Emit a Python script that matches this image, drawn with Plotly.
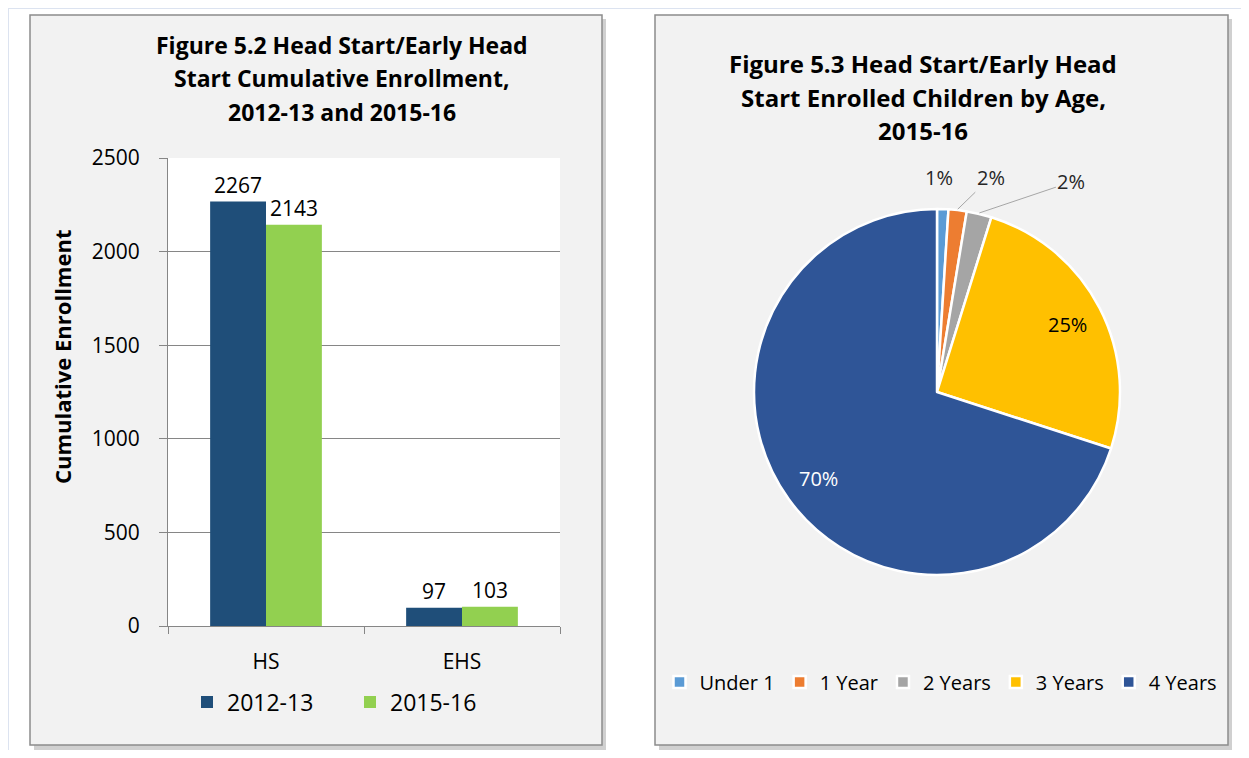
import math
import plotly.graph_objects as go

# ---- data ----
bar_categories = ["HS", "EHS"]
series_names = ["2012-13", "2015-16"]
enroll_2012_13 = [2267, 97]
enroll_2015_16 = [2143, 103]
bar_colors = ["#1F4E79", "#92D050"]
y_ticks = [0, 500, 1000, 1500, 2000, 2500]

age_labels = ["Under 1", "1 Year", "2 Years", "3 Years", "4 Years"]
age_shares = [1.0, 1.6, 2.2, 25.2, 70.0]
age_colors = ["#5B9BD5", "#ED7D31", "#A5A5A5", "#FFC000", "#2F5597"]

# page has an 8px body margin: figure sized to fit window exactly
OFF = 8
W, H = 1249 - 2 * OFF, 758 - 2 * OFF
FONT = "Open Sans"


def px_x(p):
    return (p - OFF) / W


def px_y(p):
    return 1 - (p - OFF) / H


fig = go.Figure()

for name, vals, col in zip(series_names, [enroll_2012_13, enroll_2015_16], bar_colors):
    fig.add_trace(go.Bar(
        x=bar_categories, y=vals, name=name, marker_color=col,
        marker_line_width=0,
        text=[str(v) for v in vals], textposition="outside",
        textfont=dict(size=21, color="#000000", family=FONT),
        cliponaxis=False, xaxis="x", yaxis="y", legend="legend",
    ))

# pie geometry (pixels)
PIE_CX, PIE_CY, PIE_R = 937, 392, 183
fig.add_trace(go.Pie(
    labels=age_labels, values=age_shares, sort=False, direction="clockwise",
    rotation=0, marker=dict(colors=age_colors, line=dict(color="white", width=2.5)),
    textinfo="none",
    domain=dict(x=[px_x(PIE_CX - PIE_R), px_x(PIE_CX + PIE_R)],
                y=[px_y(PIE_CY + PIE_R), px_y(PIE_CY - PIE_R)]),
    legend="legend2", hoverinfo="label+percent",
))

fig.update_layout(
    width=W, height=H, margin=dict(l=0, r=0, t=0, b=0, autoexpand=False),
    paper_bgcolor="white", plot_bgcolor="rgba(0,0,0,0)",
    font=dict(family=FONT, size=21, color="#000000"),
    barmode="group", bargap=0.43, bargroupgap=0,
    xaxis=dict(domain=[px_x(168), px_x(560)], anchor="y", automargin=False,
               showline=True, linecolor="#868686", linewidth=1,
               ticks="outside", tickson="boundaries", ticklen=7, tickcolor="#868686",
               ticklabelstandoff=17, tickfont=dict(size=21),
               showgrid=False),
    yaxis=dict(domain=[px_y(626), px_y(158)], anchor="x", range=[0, 2500],
               tickvals=y_ticks, automargin=False,
               showline=True, linecolor="#868686", linewidth=1,
               ticks="outside", ticklen=8, tickcolor="#868686",
               gridcolor="#868686", gridwidth=1, zeroline=False,
               tickfont=dict(size=21), ticklabelstandoff=15),
    legend=dict(orientation="h", x=px_x(350), xanchor="center", y=px_y(702),
                yanchor="middle", bgcolor="rgba(0,0,0,0)", font=dict(size=23),
                traceorder="normal", itemwidth=30, entrywidthmode="pixels", entrywidth=118),
    legend2=dict(orientation="h", x=px_x(941), xanchor="center", y=px_y(682),
                 yanchor="middle", bgcolor="rgba(0,0,0,0)", font=dict(size=20),
                 itemwidth=30, traceorder="normal"),
    showlegend=True,
)

shapes = []
# faint page border lines
shapes.append(dict(type="line", xref="paper", yref="paper", x0=0, x1=1, y0=1, y1=1,
                   line=dict(color="#DCE3F0", width=2), layer="below"))
shapes.append(dict(type="line", xref="paper", yref="paper", x0=0, x1=0, y0=0, y1=1,
                   line=dict(color="#DCE3F0", width=2), layer="below"))
for (x0, x1) in [(30, 602), (655, 1228)]:
    # shadow
    shapes.append(dict(type="rect", xref="paper", yref="paper",
                       x0=px_x(x0 + 4), x1=px_x(x1 + 4), y0=px_y(745 + 5), y1=px_y(15 + 4),
                       fillcolor="#B0B0B0", line=dict(width=0), layer="below", opacity=0.6))
    # panel
    shapes.append(dict(type="rect", xref="paper", yref="paper",
                       x0=px_x(x0), x1=px_x(x1), y0=px_y(745), y1=px_y(15),
                       fillcolor="#F2F2F2", line=dict(color="#8C8C8C", width=1.5), layer="below"))
# white plot area for bars
shapes.append(dict(type="rect", xref="paper", yref="paper",
                   x0=px_x(168), x1=px_x(560), y0=px_y(626), y1=px_y(158),
                   fillcolor="white", line=dict(width=0), layer="below"))
fig.update_layout(shapes=shapes)

annotations = []
left_title = ["Figure 5.2 Head Start/Early Head", "Start Cumulative Enrollment,", "2012-13 and 2015-16"]
for txt, yy in zip(left_title, [45, 78, 112]):
    annotations.append(dict(text=f"<b>{txt}</b>", x=px_x(342), y=px_y(yy), xref="paper", yref="paper",
                            xanchor="center", yanchor="middle", showarrow=False,
                            font=dict(size=23, family=FONT, color="#000000")))
right_title = ["Figure 5.3 Head Start/Early Head", "Start Enrolled Children by Age,", "2015-16"]
for txt, yy in zip(right_title, [63, 97, 131]):
    annotations.append(dict(text=f"<b>{txt}</b>", x=px_x(923), y=px_y(yy), xref="paper", yref="paper",
                            xanchor="center", yanchor="middle", showarrow=False,
                            font=dict(size=24, family=FONT, color="#000000")))
# y-axis title
annotations.append(dict(text="<b>Cumulative Enrollment</b>", x=px_x(62), y=px_y(357),
                        xref="paper", yref="paper", xanchor="center", yanchor="middle",
                        textangle=-90, showarrow=False,
                        font=dict(size=22, family=FONT, color="#000000")))

# pie data labels, placed from the slice angles computed from the data
total = sum(age_shares)
cum = 0.0
# label style per slice: (inside?, dx, dy, leader line, colour)
label_style = [
    (False, -4, -31, False, "#262626"),
    (False, 33, -32, True, "#262626"),
    (False, 92, -31, True, "#262626"),
    (True, 0, 0, False, "#000000"),
    (True, 0, 0, False, "#FFFFFF"),
]
for share, (inside, dx, dy, leader, tcol) in zip(age_shares, label_style):
    mid = (cum + share / 2) / total * 2 * math.pi
    cum += share
    pct = f"{round(100 * share / total)}%"
    if inside:
        rr = 0.8 * PIE_R
        annotations.append(dict(text=pct, x=px_x(PIE_CX + rr * math.sin(mid)),
                                y=px_y(PIE_CY - rr * math.cos(mid)), xref="paper", yref="paper",
                                showarrow=False, xanchor="center", yanchor="middle",
                                font=dict(size=20, family=FONT, color=tcol)))
    else:
        ex = PIE_CX + (PIE_R + 1) * math.sin(mid)
        ey = PIE_CY - (PIE_R + 1) * math.cos(mid)
        if leader:
            annotations.append(dict(text=pct, x=px_x(ex), y=px_y(ey), xref="paper", yref="paper",
                                    showarrow=True, ax=dx, ay=dy, arrowhead=0, arrowwidth=1,
                                    arrowcolor="#A6A6A6", standoff=0, startstandoff=0,
                                    font=dict(size=20, family=FONT, color=tcol)))
        else:
            annotations.append(dict(text=pct, x=px_x(ex), y=px_y(ey), xref="paper", yref="paper",
                                    showarrow=False, xshift=dx, yshift=-dy,
                                    xanchor="center", yanchor="middle",
                                    font=dict(size=20, family=FONT, color=tcol)))
fig.update_layout(annotations=annotations)

fig.write_html("out.html")
